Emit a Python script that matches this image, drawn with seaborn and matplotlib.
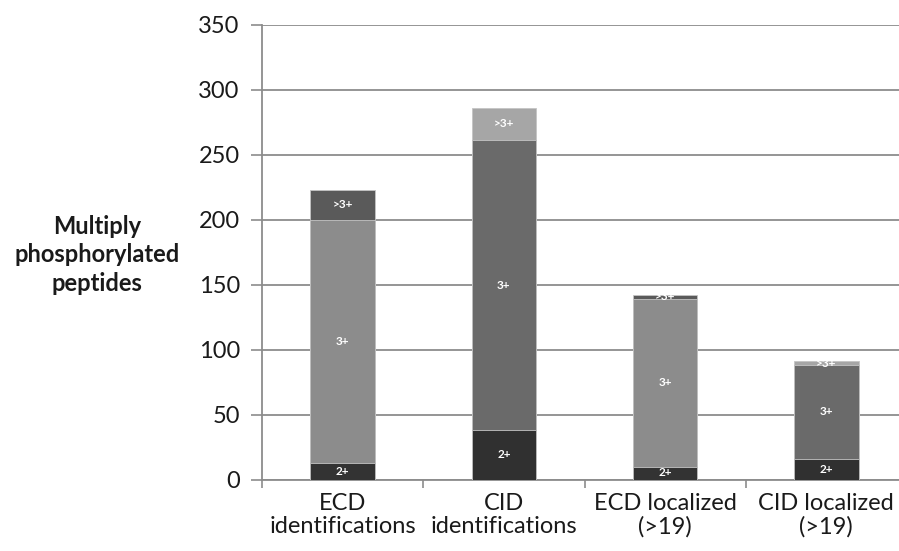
import matplotlib
matplotlib.use("Agg")
import matplotlib.pyplot as plt
import seaborn as sns
import numpy as np

# Peptide counts per charge state, stacked per category
categories = ["ECD\nidentifications", "CID\nidentifications",
              "ECD localized\n(>19)", "CID localized\n(>19)"]
charge_2 = [13, 38, 10, 16]
charge_3 = [187, 223, 129, 72]
charge_gt3 = [23, 25, 3, 3]
segment_labels = ["2+", "3+", ">3+"]
y_ticks = [0, 50, 100, 150, 200, 250, 300, 350]

colors_2 = ["#333333", "#303030", "#333333", "#303030"]
colors_3 = ["#8c8c8c", "#6a6a6a", "#8c8c8c", "#6a6a6a"]
colors_gt3 = ["#5a5a5a", "#a6a6a6", "#5a5a5a", "#a6a6a6"]

sns.set_theme(style="white")
plt.rcParams["font.family"] = ["Lato", "DejaVu Sans"]

fig = plt.figure(figsize=(8.99, 5.51), dpi=100)
ax = fig.add_axes([262 / 899, 1 - 479.5 / 551, 645 / 899, 455 / 551])

segments = [charge_2, charge_3, charge_gt3]
seg_colors = [colors_2, colors_3, colors_gt3]

# Stack by overdrawing: cumulative totals drawn tallest first
tops = np.cumsum(np.array(segments), axis=0)
bottoms = tops - np.array(segments)
for k in range(len(segments) - 1, -1, -1):
    sns.barplot(x=categories, y=tops[k], hue=categories, palette=seg_colors[k],
                width=0.4, legend=False, ax=ax,
                edgecolor="#c4c4c4", linewidth=0.6, zorder=3 + (2 - k) * 0.1)

for k, lab in enumerate(segment_labels):
    for i in range(len(categories)):
        ax.text(i, (bottoms[k, i] + tops[k, i]) / 2, lab, ha="center",
                va="center", color="white", fontsize=8.5, fontweight="bold",
                zorder=5)

ax.set_ylim(0, 350)
ax.set_xlim(-0.5, len(categories) - 0.5)
ax.set_yticks(y_ticks)
ax.yaxis.grid(True, color="#8c8c8c", linewidth=1.3, zorder=0)
ax.xaxis.grid(False)
ax.set_axisbelow(True)

ax.set_xticks(range(len(categories)))
ax.set_xticklabels(categories, fontsize=17, color="#1a1a1a", linespacing=1.12)
ax.set_xticks(np.arange(-0.5, len(categories) - 0.5 + 0.01, 1.0), minor=True)
ax.tick_params(axis="x", which="major", length=0, pad=10)
ax.tick_params(axis="x", which="minor", length=6, width=1.2,
               color="#8c8c8c", direction="out", bottom=True)
ax.tick_params(axis="y", length=8, width=1.2, color="#8c8c8c",
               direction="out", left=True, pad=8, labelsize=17,
               labelcolor="#1a1a1a")

for side in ["top", "right"]:
    ax.spines[side].set_visible(False)
for side in ["left", "bottom"]:
    ax.spines[side].set_color("#8c8c8c")
    ax.spines[side].set_linewidth(1.3)

ax.set_xlabel("")
ax.set_ylabel("")
fig.text(97 / 899, 1 - 255 / 551, "Multiply\nphosphorylated\npeptides",
         ha="center", va="center", fontsize=17, fontweight="bold",
         color="#1a1a1a", linespacing=1.3)

fig.savefig("out.png", dpi=100)
